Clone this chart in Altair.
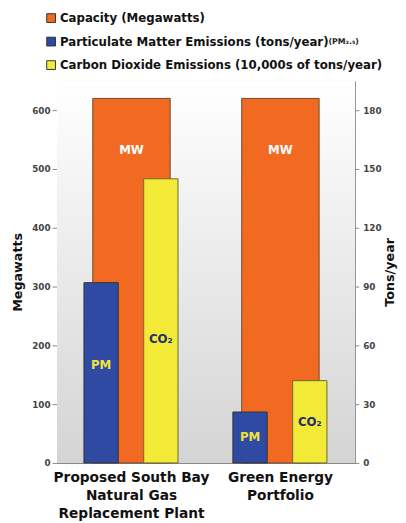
import altair as alt
import pandas as pd

categories = ["Proposed South Bay\nNatural Gas\nReplacement Plant", "Green Energy\nPortfolio"]
capacity_mw = [620, 620]
pm_tons = [92, 26]
co2_10k_tons = [145, 42]

series_names = [
    "Capacity (Megawatts)",
    "Particulate Matter Emissions (tons/year)",
    "Carbon Dioxide Emissions (10,000s of tons/year)",
]
series_colors = ["#f26a21", "#2f4aa3", "#f2ea37"]

# annotation anchors (data units)
mw_label_at = [532, 532]
pm_label_at = [50, 13]
co2_label_at = [63, 21]

cap_df = pd.DataFrame({"cat": categories, "val": capacity_mw, "series": series_names[0], "lab": "MW", "ly": mw_label_at})
pm_df = pd.DataFrame({"cat": categories, "val": pm_tons, "series": series_names[1], "lab": "PM", "ly": pm_label_at})
co2_df = pd.DataFrame({"cat": categories, "val": co2_10k_tons, "series": series_names[2], "lab": "CO₂", "ly": co2_label_at})

FONT = "DejaVu Sans"
W, H = 304, 390
color_scale = alt.Scale(domain=series_names, range=series_colors)

x_axis = alt.Axis(
    labelAngle=0,
    labelExpr="split(datum.value, '\\n')",
    labelFont=FONT,
    labelFontWeight="bold",
    labelFontSize=14,
    labelColor="#111",
    labelLineHeight=18.5,
    labelPadding=8,
    domainColor="#888",
    ticks=False,
)
x_enc = alt.X("cat:N", sort=categories, title=None,
              scale=alt.Scale(paddingInner=0, paddingOuter=0), axis=x_axis)

left_scale = alt.Scale(domain=[0, 650], nice=False)
right_scale = alt.Scale(domain=[0, 195], nice=False)

left_axis = alt.Axis(
    values=[0, 100, 200, 300, 400, 500, 600],
    grid=True,
    gridColor="#8a8a8a",
    gridWidth=1.2,
    domainColor="#888",
    tickColor="#888",
    tickSize=5,
    labelFont=FONT,
    labelFontWeight="bold",
    labelFontSize=9,
    labelColor="#444",
    titleFont=FONT,
    titleFontWeight="bold",
    titleFontSize=13,
    titleColor="#111",
    titlePadding=7,
)
right_axis = alt.Axis(
    orient="right",
    values=[0, 30, 60, 90, 120, 150, 180],
    grid=False,
    domainColor="#888",
    tickColor="#888",
    tickSize=4,
    labelFont=FONT,
    labelFontWeight="bold",
    labelFontSize=9,
    labelColor="#444",
    labelPadding=4,
    titleFont=FONT,
    titleFontWeight="bold",
    titleFontSize=13,
    titleColor="#111",
    titleAngle=270,
    titlePadding=16,
)

bg = alt.Chart(pd.DataFrame({"cat": categories})).mark_rect(
    color=alt.LinearGradient(
        gradient="linear",
        x1=0, x2=0, y1=0, y2=1,
        stops=[alt.GradientStop(offset=0, color="#ffffff"), alt.GradientStop(offset=1, color="#d4d4d4")],
    )
).encode(x=alt.value(0), x2=alt.value(W), y=alt.value(0), y2=alt.value(H))

cap_bar = alt.Chart(cap_df).mark_bar(size=79, stroke="#6a4a30", strokeWidth=1).encode(
    x=x_enc,
    y=alt.Y("val:Q", scale=left_scale, title="Megawatts", axis=left_axis),
    color=alt.Color("series:N", scale=color_scale, legend=alt.Legend(
        title=None,
        orient="none",
        legendX=-12,
        legendY=-70,
        direction="vertical",
        symbolType="square",
        symbolSize=80,
        symbolStrokeWidth=1,
        symbolStrokeColor="#555",
        labelFont=FONT,
        labelFontWeight="bold",
        labelFontSize=12,
        labelColor="#111",
        labelOffset=3,
        rowPadding=10,
        labelLimit=400,
    )),
)
cap_text = alt.Chart(cap_df).mark_text(font=FONT, fontWeight="bold", fontSize=12, color="white").encode(
    x=alt.X("cat:N", sort=categories, title=None, axis=x_axis),
    y=alt.Y("ly:Q", scale=left_scale, title="Megawatts", axis=left_axis),
    text="lab:N",
)

pm_bar = alt.Chart(pm_df).mark_bar(size=35, xOffset=-31, stroke="#333", strokeWidth=1).encode(
    x=alt.X("cat:N", sort=categories, title=None, axis=x_axis),
    y=alt.Y("val:Q", scale=right_scale, title="Tons/year", axis=right_axis),
    color=alt.Color("series:N", scale=color_scale),
)
pm_text = alt.Chart(pm_df).mark_text(xOffset=-31, font=FONT, fontWeight="bold", fontSize=12, color="#f0e23a").encode(
    x=alt.X("cat:N", sort=categories, title=None, axis=x_axis),
    y=alt.Y("ly:Q", scale=right_scale, title="Tons/year", axis=right_axis),
    text="lab:N",
)
co2_bar = alt.Chart(co2_df).mark_bar(size=35, xOffset=30, stroke="#6a6a30", strokeWidth=1).encode(
    x=alt.X("cat:N", sort=categories, title=None, axis=x_axis),
    y=alt.Y("val:Q", scale=right_scale, title="Tons/year", axis=right_axis),
    color=alt.Color("series:N", scale=color_scale),
)
co2_text = alt.Chart(co2_df).mark_text(xOffset=30, font=FONT, fontWeight="bold", fontSize=12, color="#2a2f6a").encode(
    x=alt.X("cat:N", sort=categories, title=None, axis=x_axis),
    y=alt.Y("ly:Q", scale=right_scale, title="Tons/year", axis=right_axis),
    text="lab:N",
)

pm_note = alt.Chart(pd.DataFrame({"t": ["(PM₂.₅)"]})).mark_text(
    font=FONT, fontWeight="bold", fontSize=8, color="#222", align="left", baseline="middle"
).encode(x=alt.value(277), y=alt.value(-40), text="t:N")

left_layer = alt.layer(bg, cap_bar, cap_text)
right_layer = alt.layer(pm_bar, pm_text, co2_bar, co2_text)

chart = alt.layer(left_layer, right_layer, pm_note).resolve_scale(y="independent").properties(
    width=W,
    height=H,
    autosize=alt.AutoSizeParams(type="none"),
    padding={"left": 50, "top": 69, "right": 44, "bottom": 56},
).configure_view(stroke="#999").configure(background="white")

chart.save("out.html", embed_options={"renderer": "svg", "actions": False})
